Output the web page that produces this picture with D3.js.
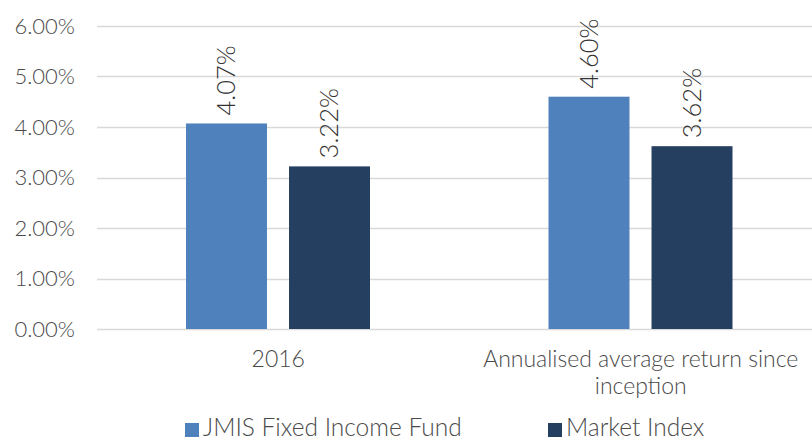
<!DOCTYPE html>
<html><head><meta charset="utf-8">
<script src="https://cdn.jsdelivr.net/npm/d3@7"></script>
<style>
html,body{margin:0;padding:0;background:#fff;}
svg{display:block;font-family:Lato, "Open Sans", sans-serif;font-weight:300;}
</style></head>
<body><svg id="c" width="812" height="441"></svg>
<script>
const categories = ["2016", "Annualised average return since inception"];
const categoryLines = [["2016"], ["Annualised average return since", "inception"]];
const seriesNames = ["JMIS Fixed Income Fund", "Market Index"];
const jmisValues = [4.07, 4.60];
const marketValues = [3.22, 3.62];
const yTicks = [0, 1, 2, 3, 4, 5, 6];
const colors = ["#4F81BD", "#243F60"];

const svg = d3.select("#c");
const x = d3.scaleBand().domain(categories).range([97, 822]);
const inner = d3.scaleBand().domain(seriesNames).range([89, 273]).paddingInner(0.214);
const y = d3.scaleLinear().domain([0, 6]).range([329, 26]);

// gridlines
svg.append("g").selectAll("line").data(yTicks).join("line")
  .attr("x1", 97).attr("x2", 812)
  .attr("y1", d => Math.round(y(d)) + 0.5).attr("y2", d => Math.round(y(d)) + 0.5)
  .attr("stroke", "#D9D9D9").attr("stroke-width", 1.4);

// y axis labels
const yAxis = d3.axisLeft(y).tickValues(yTicks).tickFormat(d => d.toFixed(2) + "%").tickSize(0).tickPadding(0);
const ya = svg.append("g").attr("transform", "translate(75,0)").call(yAxis);
ya.select(".domain").remove();
ya.selectAll("text").attr("font-size", 22).attr("fill", "#4a4a4a").attr("font-family", "Lato, sans-serif").attr("font-weight", 300);

const data = categories.map((c, i) => ({cat: c, vals: [jmisValues[i], marketValues[i]]}));
const groups = svg.append("g").selectAll("g").data(data).join("g")
  .attr("transform", d => `translate(${x(d.cat)},0)`);
groups.selectAll("rect").data(d => d.vals.map((v, j) => ({v, s: seriesNames[j], j}))).join("rect")
  .attr("x", d => inner(d.s)).attr("width", inner.bandwidth())
  .attr("y", d => y(d.v)).attr("height", d => y(0) - y(d.v))
  .attr("fill", d => colors[d.j]);
groups.selectAll("text.lbl").data(d => d.vals.map((v, j) => ({v, s: seriesNames[j], j}))).join("text")
  .attr("class", "lbl")
  .attr("transform", d => `translate(${inner(d.s) + inner.bandwidth() / 2},${y(d.v) - 8}) rotate(-90)`)
  .attr("dy", "0.35em")
  .attr("text-anchor", "start")
  .attr("font-size", 25.5).attr("fill", "#333333")
  .text(d => d.v.toFixed(2) + "%");

// x axis category labels
const xl = svg.append("g").selectAll("text").data(categories).join("text")
  .attr("text-anchor", "middle").attr("font-size", 23).attr("fill", "#4a4a4a");
xl.each(function(d, ci) {
  const t = d3.select(this);
  categoryLines[ci].forEach((l, i) => t.append("tspan").attr("x", x(d) + x.bandwidth() / 2).attr("y", 367 + i * 27).text(l));
});

// legend
const legX = [185, 548];
const lg = svg.append("g").selectAll("g").data(seriesNames).join("g")
  .attr("transform", (d, i) => `translate(${legX[i]},0)`);
lg.append("rect").attr("x", 0).attr("y", 423).attr("width", 14).attr("height", 14).attr("fill", (d, i) => colors[i]);
lg.append("text").attr("x", 18).attr("y", 436).attr("font-size", 24.5).attr("fill", "#4a4a4a").text(d => d);
</script></body></html>
